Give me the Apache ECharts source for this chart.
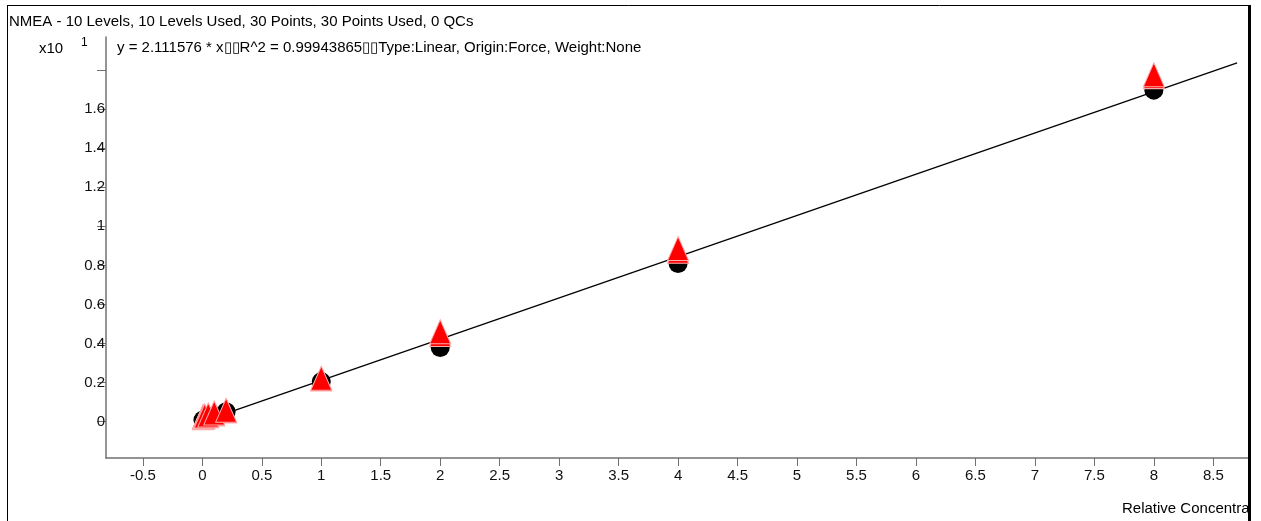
<!DOCTYPE html>
<html>
<head>
<meta charset="utf-8">
<script src="https://cdn.jsdelivr.net/npm/echarts@6/dist/echarts.min.js"></script>
<style>html,body{margin:0;padding:0;background:#fff}#c{width:1261px;height:521px}</style>
</head>
<body>
<div id="c"></div>
<script>
// Data (y values in units of x10^1)
var levels = [0.005, 0.01, 0.02, 0.05, 0.1, 0.2, 1, 2, 4, 8];
var rep1 = [0.008, 0.009, 0.010, 0.012, 0.030, 0.051, 0.205, 0.380, 0.810, 1.697];
var rep2 = [0.020, 0.022, 0.025, 0.030, 0.040, 0.055, 0.218, 0.446, 0.872, 1.766];
var rep3 = [0.024, 0.026, 0.029, 0.034, 0.044, 0.058, 0.222, 0.460, 0.886, 1.776];
var fitX = [0, 8.7];
var fitY = [0, 1.837];
var xTicks = [-0.5, 0, 0.5, 1, 1.5, 2, 2.5, 3, 3.5, 4, 4.5, 5, 5.5, 6, 6.5, 7, 7.5, 8, 8.5];
var yTicks = [0, 0.2, 0.4, 0.6, 0.8, 1, 1.2, 1.4, 1.6, 1.8];
var yLabels = [0, 0.2, 0.4, 0.6, 0.8, 1, 1.2, 1.4, 1.6];
var titleText = 'NMEA - 10 Levels, 10 Levels Used, 30 Points, 30 Points Used, 0 QCs';
var eqText = 'y = 2.111576 * x\u25AF\u25AFR^2 = 0.99943865\u25AF\u25AFType:Linear, Origin:Force, Weight:None';
var xName = 'Relative Concentration';

function pairs(xs, ys) { return xs.map(function (x, i) { return [x, ys[i]]; }); }
function fmt(v) { return String(Math.round(v * 10) / 10); }

var FONT = '"Liberation Sans", Arial, sans-serif';
var FS = 15;
var chart = echarts.init(document.getElementById('c'), null, { renderer: 'canvas' });
chart.setOption({
  animation: false,
  backgroundColor: '#fff',
  grid: { left: 106, right: 12, top: 37, bottom: 63 },
  xAxis: {
    type: 'value', min: -0.81, max: 8.8,
    splitLine: { show: false },
    axisLine: { onZero: false, lineStyle: { color: '#707070', width: 1.5 } },
    axisTick: { length: 8, lineStyle: { color: '#707070' }, customValues: xTicks },
    axisLabel: { customValues: xTicks, color: '#111', fontFamily: FONT, fontSize: FS, margin: 10, formatter: fmt }
  },
  yAxis: {
    type: 'value', min: -0.186, max: 1.969,
    splitLine: { show: false },
    axisLine: { onZero: false, lineStyle: { color: '#707070', width: 1.5 } },
    axisTick: { length: 9, lineStyle: { color: '#707070' }, customValues: yTicks },
    axisLabel: { customValues: yLabels, color: '#111', fontFamily: FONT, fontSize: FS, margin: 1, formatter: fmt }
  },
  series: [
    { type: 'line', data: pairs(fitX, fitY), symbol: 'none', lineStyle: { color: '#000', width: 1.3 }, z: 1 },
    { type: 'scatter', data: pairs(levels, rep1), symbol: 'circle', symbolSize: 19,
      itemStyle: { color: '#000', opacity: 1 }, z: 2 },
    { type: 'scatter', data: pairs(levels, rep2), symbol: 'triangle', symbolSize: [21, 24],
      itemStyle: { color: '#ff0000', borderColor: '#ffaaaa', borderWidth: 1, opacity: 1 }, z: 3 },
    { type: 'scatter', data: pairs(levels, rep3), symbol: 'triangle', symbolSize: [21, 24],
      itemStyle: { color: '#ff0000', borderColor: '#ffaaaa', borderWidth: 1, opacity: 1 }, z: 4 }
  ],
  graphic: [
    { type: 'text', z: 10, style: { x: 9, y: 22, text: titleText, fill: '#000', font: FS + 'px ' + FONT, textVerticalAlign: 'middle' } },
    { type: 'text', z: 10, style: { x: 39, y: 49, text: 'x10', fill: '#000', font: FS + 'px ' + FONT, textVerticalAlign: 'middle' } },
    { type: 'text', z: 10, style: { x: 81, y: 43, text: '1', fill: '#000', font: '12px ' + FONT, textVerticalAlign: 'middle' } },
    { type: 'text', z: 10, style: { x: 117, y: 48, text: eqText, fill: '#000', font: FS + 'px ' + FONT, textVerticalAlign: 'middle' } },
    { type: 'text', z: 10, style: { x: 1122, y: 509, text: xName, fill: '#000', font: FS + 'px ' + FONT, textVerticalAlign: 'middle' } },
    { type: 'rect', z: 20, shape: { x: 1249, y: 0, width: 12, height: 521 }, style: { fill: '#fff' } },
    { type: 'line', z: 30, shape: { x1: 7.5, y1: 5.5, x2: 1250, y2: 5.5 }, style: { stroke: '#000', lineWidth: 1 } },
    { type: 'line', z: 30, shape: { x1: 7.5, y1: 5, x2: 7.5, y2: 521 }, style: { stroke: '#000', lineWidth: 1 } },
    { type: 'line', z: 30, shape: { x1: 1249.5, y1: 5, x2: 1249.5, y2: 521 }, style: { stroke: '#000', lineWidth: 3 } }
  ]
});
</script>
</body>
</html>
